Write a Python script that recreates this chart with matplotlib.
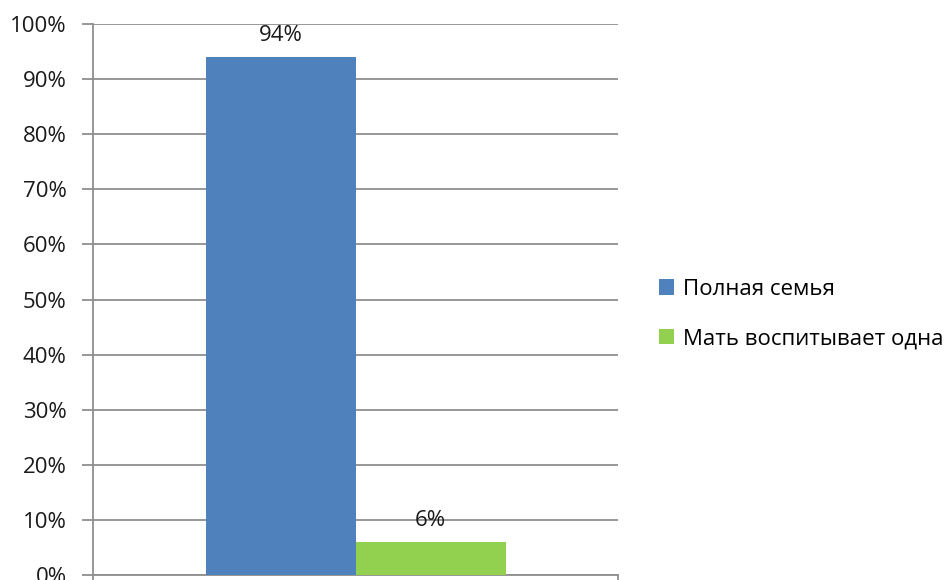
import matplotlib
matplotlib.use("Agg")
import matplotlib.pyplot as plt
from matplotlib.patches import Patch

plt.rcParams['font.family'] = ['Open Sans', 'DejaVu Sans']

series = ["Полная семья", "Мать воспитывает одна"]
values = [94, 6]
labels = ["94%", "6%"]
colors = ["#4F81BD", "#92D050"]
yticks = list(range(0, 101, 10))

fs = 16

fig = plt.figure(figsize=(9.5, 5.8), dpi=100)
ax = fig.add_axes([93/950, 5/580, 525/950, 551/580])

w = 150/525
offsets = [-w/2, w/2]
for v, lab, c, off in zip(values, labels, colors, offsets):
    ax.bar(off, v, width=w, color=c, zorder=3)
    ax.text(off, v + 2.9, lab, ha='center', va='baseline', fontsize=fs, color='#1a1a1a')

ax.set_xlim(-0.5, 0.5)
ax.set_ylim(0, 100)
ax.set_yticks(yticks)
ax.set_yticklabels([f"{t}%" for t in yticks], fontsize=fs, color='#1a1a1a')
ax.yaxis.grid(True, color='#8f8f8f', linewidth=1.3, zorder=0)
ax.set_xticks([-0.5, 0.5])
ax.set_xticklabels([])
ax.tick_params(axis='x', length=6, width=1.3, color='#8f8f8f', direction='out')
ax.tick_params(axis='y', length=8, width=1.3, color='#8f8f8f', direction='out', pad=11)
for s in ['top', 'right']:
    ax.spines[s].set_visible(False)
for s in ['left', 'bottom']:
    ax.spines[s].set_color('#8f8f8f')
    ax.spines[s].set_linewidth(1.3)

handles = [Patch(facecolor=c, label=s) for s, c in zip(series, colors)]
fig.legend(handles=handles, loc='center left', bbox_to_anchor=(652/950, 1 - 314/580),
           frameon=False, fontsize=fs, handlelength=0.7, handleheight=0.7,
           handletextpad=0.4, labelspacing=1.3, borderaxespad=0, borderpad=0.3)

fig.savefig("out.png", dpi=100)
